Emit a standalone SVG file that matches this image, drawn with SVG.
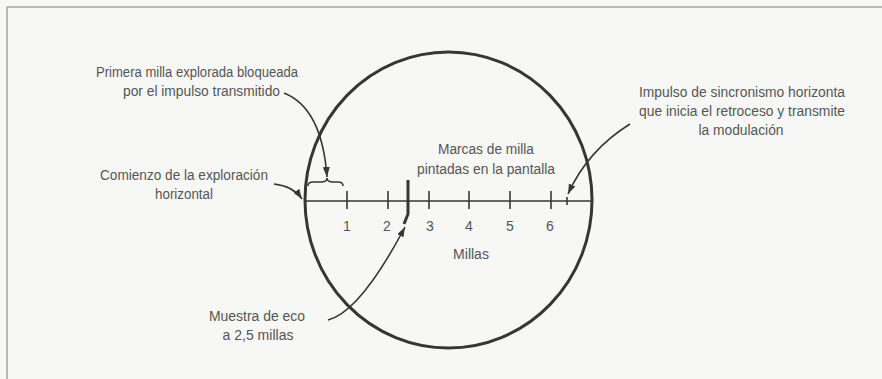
<svg xmlns="http://www.w3.org/2000/svg" width="882" height="379" viewBox="0 0 882 379">
<style>
.t{font-family:"Liberation Sans",Arial,sans-serif;font-size:14px;fill:#555;text-anchor:middle}
.ln{fill:none;stroke:#363636;stroke-width:1.6}
.tk{stroke:#363636;stroke-width:1.6}
</style>
<defs>
<marker id="ah" markerUnits="userSpaceOnUse" markerWidth="11" markerHeight="7" refX="10" refY="3.5" orient="auto">
<path d="M0,0 L10,3.5 L0,7 z" fill="#363636"/>
</marker>
</defs>
<rect width="882" height="379" fill="#f7f7f5"/>
<g id="frame" stroke="#a3a3a3" stroke-width="1.5">
<line x1="7" y1="7" x2="882" y2="7"/>
<line x1="7" y1="7" x2="7" y2="379"/>
</g>
<g id="screen">
<ellipse cx="448.5" cy="200" rx="143.5" ry="148" fill="none" stroke="#363636" stroke-width="3"/>
<line class="tk" x1="304" y1="201" x2="592" y2="201" stroke-width="2"/>
</g>
<g id="ticks">
<line class="tk" x1="347" y1="191" x2="347" y2="209"/>
<line class="tk" x1="388" y1="191" x2="388" y2="209"/>
<line class="tk" x1="429" y1="191" x2="429" y2="209"/>
<line class="tk" x1="469" y1="191" x2="469" y2="209"/>
<line class="tk" x1="510" y1="191" x2="510" y2="209"/>
<line class="tk" x1="551" y1="191" x2="551" y2="209"/>
<line class="tk" x1="567" y1="197" x2="567" y2="205"/>
<text class="t" x="347" y="231">1</text>
<text class="t" x="387" y="231">2</text>
<text class="t" x="430" y="231">3</text>
<text class="t" x="469" y="231">4</text>
<text class="t" x="510" y="231">5</text>
<text class="t" x="550" y="231">6</text>
</g>
<g id="millas"><text class="t" x="471" y="259">Millas</text></g>
<g id="echo"><path d="M408,180 L408,214 L404,224" fill="none" stroke="#363636" stroke-width="3"/></g>
<g id="brace"><path class="ln" d="M308,186 Q308,182 313,182 L321,182 Q327,182 327,178 Q327,182 333,182 L338,182 Q343,182 343,186"/></g>
<g id="label-primera">
<text class="t" x="197" y="77" textLength="202" lengthAdjust="spacingAndGlyphs">Primera milla explorada bloqueada</text>
<text class="t" x="201.5" y="96" textLength="157" lengthAdjust="spacingAndGlyphs">por el impulso transmitido</text>
</g>
<g id="label-comienzo">
<text class="t" x="184" y="180" textLength="168" lengthAdjust="spacingAndGlyphs">Comienzo de la exploración</text>
<text class="t" x="184" y="199" textLength="58" lengthAdjust="spacingAndGlyphs">horizontal</text>
</g>
<g id="label-marcas">
<text class="t" x="486" y="154" textLength="96" lengthAdjust="spacingAndGlyphs">Marcas de milla</text>
<text class="t" x="486" y="174" textLength="138" lengthAdjust="spacingAndGlyphs">pintadas en la pantalla</text>
</g>
<g id="label-impulso">
<text class="t" x="742" y="97" textLength="206" lengthAdjust="spacingAndGlyphs">Impulso de sincronismo horizonta</text>
<text class="t" x="742" y="116" textLength="206" lengthAdjust="spacingAndGlyphs">que inicia el retroceso y transmite</text>
<text class="t" x="741" y="135" textLength="85" lengthAdjust="spacingAndGlyphs">la modulación</text>
</g>
<g id="label-muestra">
<text class="t" x="257" y="321" textLength="96" lengthAdjust="spacingAndGlyphs">Muestra de eco</text>
<text class="t" x="258" y="340" textLength="71" lengthAdjust="spacingAndGlyphs">a 2,5 millas</text>
</g>
<g id="connectors">
<path class="ln" d="M284,93 Q322,108 327,177" marker-end="url(#ah)"/>
<path class="ln" d="M274,184 Q293,186 302,199" marker-end="url(#ah)"/>
<path class="ln" d="M630,124 Q588,150 568,194" marker-end="url(#ah)"/>
<path class="ln" d="M328,320 Q360,312 405,227" marker-end="url(#ah)"/>
</g>
</svg>
